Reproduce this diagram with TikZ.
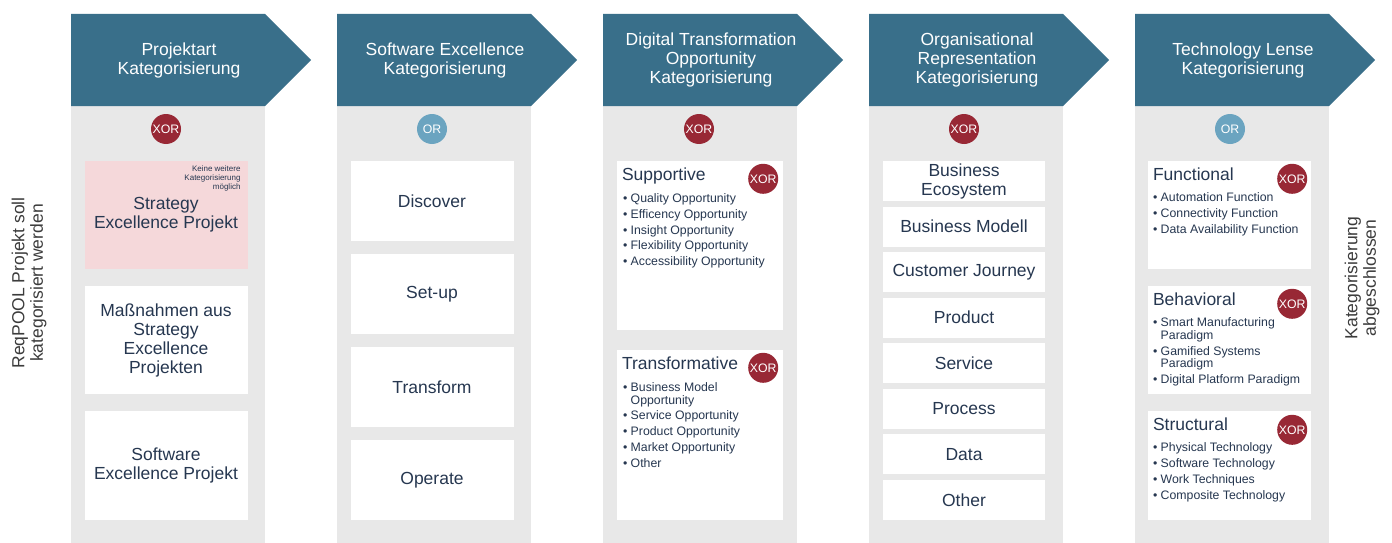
\documentclass[tikz,border=0pt]{standalone}
\usepackage{fontspec}
\setmainfont{Liberation Sans}
\usetikzlibrary{positioning}

\definecolor{headblue}{RGB}{57,111,138}
\definecolor{colgrey}{RGB}{232,232,232}
\definecolor{orblue}{RGB}{107,164,192}
\definecolor{xorred}{RGB}{152,40,53}
\definecolor{pinkbox}{RGB}{245,216,218}
\definecolor{txtblue}{RGB}{38,55,80}
\definecolor{sidegrey}{RGB}{60,60,60}

\newcommand{\bul}{\textbullet\ }
\newcommand{\ind}{\phantom{\textbullet\ }}

\tikzset{
	colhead/.style={fill=headblue},
	colbody/.style={fill=colgrey},
	headtext/.style={text=white, align=center, font=\fontsize{17.5}{19}\selectfont},
	gate/.style={circle, minimum size=30pt, inner sep=0pt, text=white, font=\fontsize{12.3}{12.3}\selectfont},
	xorgate/.style={gate, fill=xorred},
	orgate/.style={gate, fill=orblue},
	catbox/.style={fill=white, inner sep=0pt, text=txtblue, align=center, minimum width=163pt, font=\fontsize{17.5}{19}\selectfont},
	boxtitle/.style={anchor=base west, inner sep=0pt, text=txtblue, font=\fontsize{17.5}{19}\selectfont},
	itemlist/.style={anchor=north west, inner sep=0pt, align=left, text=txtblue, font=\fontsize{12.3}{12.6}\selectfont},
	note/.style={anchor=north east, inner sep=0pt, align=right, text=txtblue, font=\fontsize{8}{9}\selectfont},
	sidetext/.style={rotate=90, align=center, text=sidegrey, font=\fontsize{17.5}{18.5}\selectfont}
}

\begin{document}
\begin{tikzpicture}[x=1pt, y=-1pt]
	%%%%% START %%%%%
	\useasboundingbox (0,0) rectangle (1392,543);

	% columns and header arrows
	\foreach \i in {0,...,4} {
		\pgfmathsetmacro{\xa}{71+266*\i}
		\fill[colbody] (\xa,106) rectangle ++(194,437);
		\fill[colhead] (\xa,14) -- ++(194,0) -- ++(46,46) -- ++(-46,46) -- ++(-194,0) -- cycle;
	}

	\node[headtext] (hProj) at (179,60) {Projektart\\Kategorisierung};
	\node[headtext] (hSoft) at (445,60) {Software Excellence\\Kategorisierung};
	\node[headtext] (hDig) at (711,60) {Digital Transformation\\Opportunity\\Kategorisierung};
	\node[headtext] (hOrg) at (977,60) {Organisational\\Representation\\Kategorisierung};
	\node[headtext] (hTech) at (1243,60) {Technology Lense\\Kategorisierung};

	\node[xorgate] (gProj) at (166,129) {XOR};
	\node[orgate] (gSoft) at (432,129) {OR};
	\node[xorgate] (gDig) at (699,129) {XOR};
	\node[xorgate] (gOrg) at (964,129) {XOR};
	\node[orgate] (gTech) at (1230,129) {OR};

	% Projektart
	\node[catbox, fill=pinkbox, minimum height=108pt] (sep) at (166,215) {Strategy\\Excellence Projekt};
	\node[note] (sepNote) at ([xshift=-7pt, yshift=-5pt]sep.north east) {Keine weitere\\Kategorisierung\\möglich};
	\node[catbox, minimum height=108pt] (mass) at (166,340) {Maßnahmen aus\\Strategy\\Excellence\\Projekten};
	\node[catbox, minimum height=109pt] (sop) at (166,465.5) {Software\\Excellence Projekt};

	% Software Excellence
	\node[catbox, minimum height=80pt] (disc) at (432,201) {Discover};
	\node[catbox, minimum height=80pt] (setup) at (432,294) {Set-up};
	\node[catbox, minimum height=80pt] (trans) at (432,387) {Transform};
	\node[catbox, minimum height=80pt] (oper) at (432,480) {Operate};

	% Digital Transformation Opportunity
	\node[catbox, minimum width=166pt, minimum height=169pt] (supp) at (700,245.5) {};
	\node[boxtitle] at ([xshift=5pt, yshift=-20pt]supp.north west) {Supportive};
	\node[xorgate] (gSupp) at ([xshift=-20pt, yshift=-18pt]supp.north east) {XOR};
	\node[itemlist] at ([xshift=6pt, yshift=-32.5pt]supp.north west)
		{\bul Quality Opportunity\\[3.2pt]\bul Efficency Opportunity\\[3.2pt]\bul Insight Opportunity\\[3.2pt]\bul Flexibility Opportunity\\[3.2pt]\bul Accessibility Opportunity};

	\node[catbox, minimum width=166pt, minimum height=170pt] (transf) at (700,435) {};
	\node[boxtitle] at ([xshift=5pt, yshift=-20pt]transf.north west) {Transformative};
	\node[xorgate] (gTransf) at ([xshift=-20pt, yshift=-18pt]transf.north east) {XOR};
	\node[itemlist] at ([xshift=6pt, yshift=-32.5pt]transf.north west)
		{\bul Business Model\\\ind Opportunity\\[3.2pt]\bul Service Opportunity\\[3.2pt]\bul Product Opportunity\\[3.2pt]\bul Market Opportunity\\[3.2pt]\bul Other};

	% Organisational Representation
	\foreach \t [count=\k] in {{Business\\Ecosystem}, Business Modell, Customer Journey, Product, Service, Process, Data, Other} {
		\node[catbox, minimum width=162pt, minimum height=40pt] (org\k) at (964,{181+45.57*(\k-1)}) {\t};
	}

	% Technology Lense
	\node[catbox, minimum height=108pt] (func) at (1229.5,215) {};
	\node[boxtitle] at ([xshift=5pt, yshift=-20pt]func.north west) {Functional};
	\node[xorgate] (gFunc) at ([xshift=-19pt, yshift=-18pt]func.north east) {XOR};
	\node[itemlist] at ([xshift=5pt, yshift=-32pt]func.north west)
		{\bul Automation Function\\[3.2pt]\bul Connectivity Function\\[3.2pt]\bul Data Availability Function};

	\node[catbox, minimum height=108pt] (behav) at (1229.5,340) {};
	\node[boxtitle] at ([xshift=5pt, yshift=-20pt]behav.north west) {Behavioral};
	\node[xorgate] (gBehav) at ([xshift=-19pt, yshift=-18pt]behav.north east) {XOR};
	\node[itemlist] at ([xshift=5pt, yshift=-32pt]behav.north west)
		{\bul Smart Manufacturing\\\ind Paradigm\\[3.2pt]\bul Gamified Systems\\\ind Paradigm\\[3.2pt]\bul Digital Platform Paradigm};

	\node[catbox, minimum height=109pt] (struct) at (1229.5,465.5) {};
	\node[boxtitle] at ([xshift=5pt, yshift=-20pt]struct.north west) {Structural};
	\node[xorgate] (gStruct) at ([xshift=-19pt, yshift=-19pt]struct.north east) {XOR};
	\node[itemlist] at ([xshift=5pt, yshift=-32pt]struct.north west)
		{\bul Physical Technology\\[3.2pt]\bul Software Technology\\[3.2pt]\bul Work Techniques\\[3.2pt]\bul Composite Technology};

	% start and end
	\node[sidetext] (start) at (29,283) {ReqPOOL Projekt soll\\kategorisiert werden};
	\node[sidetext] (done) at (1362,278) {Kategorisierung\\abgeschlossen};

	%%%%% END %%%%%
\end{tikzpicture}
\end{document}
